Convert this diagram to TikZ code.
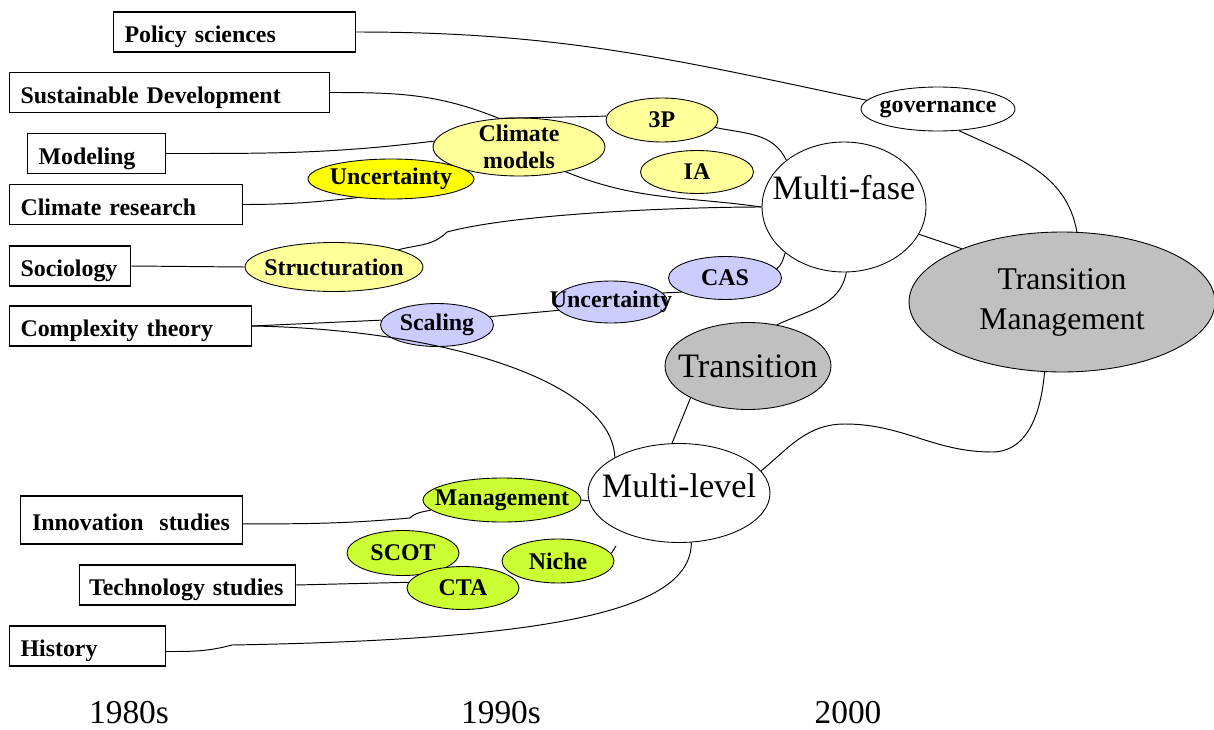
\documentclass[tikz,border=0pt]{standalone}
\usepackage{fontspec}
\setmainfont{Liberation Serif}
\usetikzlibrary{shapes.geometric}
\definecolor{paleyellow}{HTML}{FFFF99}
\definecolor{signalyellow}{HTML}{FFFF00}
\definecolor{palelilac}{HTML}{CCCCFF}
\definecolor{limegreen}{HTML}{CCFF33}
\definecolor{midgrey}{HTML}{C0C0C0}
\begin{document}
\begin{tikzpicture}[x=0.02cm,y=-0.02cm,
  field/.style={draw,rectangle,anchor=west,align=left,inner xsep=0.22cm,inner ysep=0pt,
    text height=12pt,text depth=0pt,
    minimum height=0.8cm,line width=0.6pt,font=\bfseries\fontsize{13.6}{15}\selectfont},
  topic/.style 2 args={draw,ellipse,inner sep=0pt,line width=0.5pt,minimum width=#1,minimum height=#2},
  tag/.style={font=\bfseries\fontsize{13.6}{15.4}\selectfont,align=center,inner sep=0pt},
  theme/.style={font=\fontsize{19.5}{22.8}\selectfont,align=center,inner sep=0pt},
  link/.style={line width=0.55pt},
  decade/.style={font=\fontsize{19}{22}\selectfont,inner sep=0pt}]
\useasboundingbox (0,0) rectangle (1214,730);
% disciplines on the left
\node[field,text width=4.40cm] (policy) at (113,32) {Policy sciences};
\node[field,text width=5.96cm] (sd) at (9,92.5) {Sustainable Development};
\node[field,text width=2.32cm] (mod) at (27,153.5) {Modeling};
\node[field,text width=4.22cm] (cr) at (9,204.5) {Climate research};
\node[field,text width=1.98cm] (soc) at (9,266) {Sociology};
\node[field,text width=4.40cm] (ct) at (9,326) {Complexity theory};
\node[field,text width=3.98cm,inner xsep=0.23cm,minimum height=0.96cm] (inn) at (20,520) {Innovation\ \ studies};
\node[field,text width=3.94cm,inner xsep=0.19cm] (tech) at (79,585) {Technology studies};
\node[field,text width=2.68cm] (hist) at (9,646) {History};
% concepts
\node[topic={3.44cm}{1.16cm},fill=paleyellow,label={[tag]center:{Climate\\models}}] (cm) at (519,147) {};
\node[topic={3.32cm}{0.80cm},fill=signalyellow,label={[tag]center:Uncertainty}] (unc) at (391,179) {};
\node[topic={2.24cm}{0.88cm},fill=paleyellow,label={[tag]center:3P}] (tp) at (662,120) {};
\node[topic={2.26cm}{0.86cm},fill=paleyellow,label={[tag]center:IA}] (ia) at (697,172) {};
\node[topic={3.56cm}{0.98cm},fill=paleyellow,label={[tag]center:Structuration}] (str) at (334,267) {};
\node[topic={3.08cm}{0.88cm},fill=white,label={[tag]center:governance}] (gov) at (938,109) {};
\node[topic={2.26cm}{0.86cm},fill=palelilac,label={[tag]center:Scaling}] (scal) at (437,325) {};
\node[topic={2.26cm}{0.84cm},fill=palelilac,label={[tag]center:Uncertainty}] (unc2) at (611,302) {};
\node[topic={2.26cm}{0.86cm},fill=palelilac,label={[tag]center:CAS}] (cas) at (725,278) {};
\node[topic={3.16cm}{0.88cm},fill=limegreen,label={[tag]center:Management}] (mgmt) at (502,500) {};
\node[topic={2.24cm}{0.90cm},fill=limegreen,label={[tag]center:SCOT}] (scot) at (403,553) {};
\node[topic={2.24cm}{0.88cm},fill=limegreen,label={[tag]center:Niche}] (niche) at (558,561) {};
\node[topic={2.24cm}{0.86cm},fill=limegreen,label={[tag]center:CTA}] (cta) at (463,588) {};
% main themes
\node[topic={3.28cm}{2.60cm},fill=white,label={[theme,yshift=0.38cm]center:Multi-fase}] (mf) at (844,207) {};
\node[topic={6.12cm}{2.80cm},fill=midgrey,label={[theme,font=\fontsize{18}{22.8}\selectfont]center:{Transition\\Management}}] (tm) at (1062,302) {};
\node[topic={3.32cm}{1.74cm},fill=midgrey,label={[theme]center:Transition}] (tr) at (748,366) {};
\node[topic={3.64cm}{1.98cm},fill=white,label={[theme,yshift=0.14cm]center:Multi-level}] (ml) at (679,493) {};
% decades
\node[decade] (d80) at (129,713) {1980s};
\node[decade] (d90) at (501,713) {1990s};
\node[decade] (d00) at (848,713) {2000};
% bends
\coordinate (kink1) at (447,232);
\coordinate (kink2) at (410,518);
\coordinate (kink3) at (232,645);
\coordinate (hump) at (845,424);
\coordinate (dip) at (992,452);
\coordinate (stub) at (616,546);
% links
\draw[link] (policy.east) to[out=0,in=168] (gov.173);
\draw[link] (gov.-46) to[out=-25,in=100] (tm.78);
\draw[link] (sd.east) to[out=0,in=158] (cm.125);
\draw[link] (cm.125) -- (tp.176);
\draw[link] (tp.-8) to[out=-12,in=115] (mf.141);
\draw[link] (mod.east) to[out=0,in=187] (cm.176);
\draw[link] (cr.east) to[out=0,in=186] (unc.-151);
\draw[link] (cm.-28) to[out=-22,in=172] (mf.west);
\draw[link] (str.15) to[out=15,in=-135] (kink1) to[out=15,in=180,looseness=0.6] (mf.west);
\draw[link] (soc.east) -- (str.west);
\draw[link] (ct.east) -- (scal.175);
\draw[link] (ct.east) to[out=-1,in=92,out distance=3.9cm,in distance=1.5cm] (ml.151);
\draw[link] (scal.9) -- (unc2.189);
\draw[link] (unc2.10) -- (cas.198);
\draw[link] (cas.10) to[out=40,in=-110] (mf.218);
\draw[link] (mf.-88) to[out=-100,in=25] (tr.55);
\draw[link] (mf.-20) -- (tm.152);
\draw[link] (tr.-151) -- (ml.98);
\draw[link] (ml.15) to[out=40,in=180] (hump) to[out=0,in=180] (dip) to[out=0,in=-95] (tm.-104);
\draw[link] (ml.185) -- (mgmt.east);
\draw[link] (inn.-2) to[out=0,in=185] (kink2) to[out=45,in=195] (mgmt.188);
\draw[link] (tech.east) -- (cta.174);
\draw[link] (niche.8) to[out=80,in=-100] (stub);
\draw[link] (hist.-4) to[out=0,in=195] (kink3) to[out=1,in=-90,out distance=6.5cm,in distance=1.35cm] (ml.-76);
\end{tikzpicture}
\end{document}
